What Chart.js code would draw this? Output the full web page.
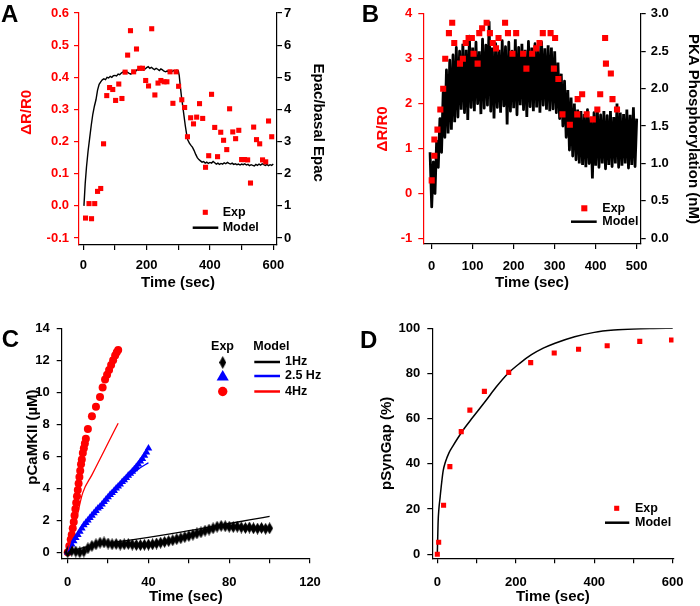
<!DOCTYPE html>
<html>
<head>
<meta charset="utf-8">
<title>Epac, PKA, CaMKII and SynGap: model vs experiment</title>
<script src="https://cdn.jsdelivr.net/npm/chart.js@4.4.1/dist/chart.umd.min.js"></script>
<style>
  html, body { margin: 0; padding: 0; background: #fff; }
  #wrap { position: relative; width: 700px; height: 606px; }
  #wrap canvas { position: absolute; }
</style>
</head>
<body>
<div id="wrap">
  <canvas id="panelA" width="350" height="303" style="left:0;top:0"></canvas>
  <canvas id="panelB" width="350" height="303" style="left:350px;top:0"></canvas>
  <canvas id="panelC" width="350" height="303" style="left:0;top:303px"></canvas>
  <canvas id="panelD" width="350" height="303" style="left:350px;top:303px"></canvas>
</div>
<script>
// ---- Panel A: Epac ----
const aExpTime = [7,18,26,36,45,55,64,74,83,93,102,112,122,132,140,149,159,168,178,187,197,206,216,226,236,245,255,264,274,283,293,301,311,320,329,339,348,358,367,377,386,396,405,415,424,434,443,453,462,472,481,491,500,509,519,528,538,547,557,566,576,585,595];
const aExpRatio = [-0.038,0.007,-0.04,0.007,0.045,0.054,0.193,0.343,0.368,0.362,0.328,0.379,0.334,0.416,0.469,0.545,0.417,0.488,0.428,0.428,0.39,0.373,0.551,0.345,0.382,0.39,0.386,0.386,0.417,0.319,0.417,0.372,0.33,0.306,0.215,0.274,0.255,0.276,0.318,0.272,0.12,0.156,0.347,0.244,0.153,0.229,0.204,0.175,0.302,0.23,0.209,0.235,0.144,0.144,0.143,0.071,0.245,0.206,0.193,0.143,0.137,0.264,0.215];
const aModelTime = [2,6,10,15,20,25,30,35,40,45,50,55,60,65,70,75,80,85,90,95,100,105,110,115,120,125,130,135,140,145,150,155,160,165,170,175,180,185,190,195,200,205,210,215,220,225,230,235,240,245,250,255,260,265,270,275,280,285,290,295,300,303,306,310,314,318,322,326,330,335,340,345,350,355,360,365,370,375,380,385,390,395,400,405,410,415,420,425,430,435,440,445,450,455,460,465,470,475,480,485,490,495,500,505,510,515,520,525,530,535,540,545,550,555,560,565,570,575,580,585,590,595,600];
const aModelEpac = [1.0,1.7,2.2,2.7,3.1,3.5,3.85,4.1,4.3,4.6,4.78,4.86,4.92,4.95,4.93,5.0,4.98,5.03,5.0,5.05,5.06,5.04,5.1,5.08,5.13,5.16,5.14,5.18,5.15,5.12,5.1,5.14,5.2,5.18,5.24,5.22,5.27,5.25,5.22,5.26,5.3,5.33,5.28,5.31,5.27,5.24,5.28,5.25,5.21,5.26,5.23,5.19,5.17,5.2,5.16,5.2,5.18,5.21,5.19,5.22,5.2,5.05,4.75,4.4,4.1,3.8,3.5,3.25,3.05,2.95,2.88,2.82,2.72,2.6,2.5,2.44,2.4,2.36,2.38,2.33,2.36,2.32,2.35,2.33,2.38,2.34,2.3,2.33,2.29,2.32,2.3,2.34,2.31,2.35,2.32,2.3,2.33,2.29,2.31,2.28,2.3,2.27,2.3,2.28,2.31,2.27,2.29,2.25,2.28,2.26,2.24,2.29,2.26,2.3,2.27,2.31,2.28,2.26,2.29,2.25,2.28,2.26,2.3];

// ---- Panel B: PKA ----
const bExpTime = [0,6.5,6.5,14,21,28,33,42,50,55,69,76,83,90,98,102,112,116,123,134,142,149,157,163,179,186,197,206,223,231,245,255,263,271,290,298,301,309,319,337,355,356,367,378,393,404,411,423,425,437,441,452];
const bExpRatio = [0.29,0.84,1.2,1.42,1.87,2.33,3.0,3.57,3.8,3.35,2.89,3.0,3.35,3.46,3.46,3.11,2.89,3.57,3.68,3.8,3.57,3.35,3.23,3.46,3.8,3.57,3.11,3.57,3.11,2.78,3.11,3.23,3.35,3.57,3.57,2.78,3.46,2.55,1.76,1.53,1.76,2.1,2.21,1.76,1.65,1.87,2.21,3.46,2.89,2.67,2.1,1.87];
// model trace, sampled every 4 s from -4 s
const bModelStart = -4, bModelStep = 4;
const bModelPka = [1.15,0.42,1.02,0.6,1.3,0.95,1.6,1.15,1.95,1.35,2.25,1.4,2.38,1.45,2.45,1.55,2.55,1.62,2.5,1.72,2.6,1.68,2.52,1.58,2.7,1.75,2.55,1.7,2.62,1.8,2.5,1.66,2.66,1.74,2.58,1.78,2.9,1.7,2.55,1.6,2.6,1.75,2.52,1.68,2.64,1.77,2.56,1.52,2.62,1.7,2.5,1.74,2.66,1.65,2.55,1.78,2.6,1.72,2.52,1.62,2.63,1.76,2.55,1.7,2.6,1.75,2.57,1.68,2.62,1.78,2.54,1.72,2.58,1.7,2.55,1.73,2.5,1.68,2.35,1.6,2.2,1.5,2.1,1.35,1.98,1.18,1.88,1.1,1.8,1.05,1.72,1.0,1.7,0.98,1.66,0.95,1.72,1.0,1.62,0.8,1.68,0.97,1.75,0.95,1.65,1.0,1.7,0.93,1.64,0.98,1.7,0.96,1.62,1.0,1.8,0.95,1.68,0.97,1.66,1.0,1.72,0.94,1.65,0.98,1.75,0.96,1.6];

// ---- Panel C: pCaMKII ----
const c4HzTime = [0,0.8,1.5,2,2.5,3,3.4,3.8,4.2,4.6,5,5.4,5.8,6.2,6.6,7,7.5,8,8.5,9,10,12,14,16,17.3,18.5,19.5,20.5,21.5,22.5,23.5,24.3,25];
const c4HzExp = [0,0.4,0.8,1.1,1.5,1.9,2.3,2.7,3.1,3.5,3.9,4.3,4.7,5.1,5.5,5.8,6.2,6.5,6.8,7.1,7.7,8.5,9.1,9.7,10.3,10.8,11.1,11.4,11.7,12.0,12.3,12.5,12.65];
const c25HzTime = [0,1,2,3,4,5,6,7,8,9,10,11,12,13,14,15,16,17,18,19,20,21,22,23,24,25,26,27,28,29,30,31,32,33,34,35,36,37,38,39,40];
const c25HzExp = [0,0.25,0.5,0.7,0.9,1.1,1.3,1.5,1.7,1.85,2.0,2.15,2.3,2.45,2.6,2.75,2.85,3.0,3.15,3.3,3.45,3.6,3.72,3.85,4.0,4.12,4.25,4.4,4.52,4.65,4.8,4.92,5.05,5.2,5.35,5.5,5.68,5.85,6.05,6.25,6.5];
const c1HzTime = [0,2,4,6,8,10,12,14,16,18,20,22,24,26,28,30,32,34,36,38,40,42,44,46,48,50,52,54,56,58,60,62,64,66,68,70,72,74,76,78,80,82,84,86,88,90,92,94,96,98,100];
const c1HzExp = [0,0.1,0.05,0.0,0.05,0.25,0.4,0.5,0.6,0.62,0.55,0.5,0.52,0.48,0.5,0.52,0.48,0.46,0.45,0.47,0.48,0.5,0.55,0.6,0.65,0.7,0.75,0.82,0.88,0.95,1.02,1.1,1.18,1.25,1.35,1.42,1.5,1.6,1.65,1.63,1.6,1.58,1.6,1.55,1.52,1.55,1.5,1.48,1.52,1.47,1.5];
const c1HzModelTime = [0,5,10,15,20,30,40,50,60,70,80,90,100];
const c1HzModel = [0,0.2,0.35,0.48,0.58,0.75,0.93,1.13,1.35,1.57,1.8,2.02,2.25];
const c25HzModelTime = [0,3,6,10,15,20,25,30,35,40];
const c25HzModel = [0,0.7,1.3,2.0,2.75,3.45,4.1,4.7,5.2,5.6];
const c4HzModelTime = [0,2,4,7.4,12,16,20,25];
const c4HzModel = [0,1.0,1.9,3.7,4.84,5.83,6.83,8.07];

// ---- Panel D: pSynGap ----
const dExpTime = [0,3.5,16,32,61,83,120,182,238,298,360,433,516,597];
const dExpVal = [0,5.3,21.7,38.8,54.3,63.8,72.1,80.5,84.8,89.1,90.7,92.3,94.2,94.8];
const dModelTime = [0,1,2,4,7,10,15,20,30,40,50,70,90,125,150,180,210,240,270,300,350,400,450,500,550,600];
const dModelVal = [0,7,14,20,25,30,37,40.5,45,48,50.8,56,60.5,68.3,74,80,84.5,88.3,91.2,93.4,96.3,98.2,99.2,99.7,99.9,100];

const FONT = '"Liberation Sans", Arial, Helvetica, sans-serif';
Chart.defaults.font.family = FONT;
Chart.defaults.font.weight = 'bold';
Chart.defaults.color = '#000';

const RED = '#ff0000', BLUE = '#0000ff', BLACK = '#000000';
const tickFont = {size: 13, weight: 'bold'};
const titleFont = {size: 15, weight: 'bold'};

function pts(xs, ys) { return xs.map((x, i) => ({x: x, y: ys[i]})); }

// tall narrow diamond used for the 1 Hz points
function diamond(w, h) {
  const c = document.createElement('canvas');
  c.width = w; c.height = h;
  const g = c.getContext('2d');
  g.fillStyle = BLACK;
  g.beginPath();
  g.moveTo(w / 2, 0); g.lineTo(w, h / 2); g.lineTo(w / 2, h); g.lineTo(0, h / 2);
  g.closePath(); g.fill();
  return c;
}
const dia = diamond(7, 12);
const diaLegend = diamond(7, 13);

function axis(o) {
  const horiz = o.position === 'bottom';
  return {
    type: 'linear', position: o.position, min: o.min, max: o.max,
    border: {display: true, color: o.color, width: 1.2},
    grid: {drawOnChartArea: false, drawTicks: true, tickLength: 5, color: o.color, lineWidth: 1.2},
    ticks: {stepSize: o.step, includeBounds: false, autoSkip: false, maxRotation: 0,
      padding: o.pad, color: o.color, font: tickFont, callback: o.fmt},
    title: {display: true, text: o.title, color: o.color, font: titleFont,
      padding: horiz ? {top: 0, bottom: o.tpad} : {top: o.tpad, bottom: 0}},
    afterFit: s => { if (horiz) s.height = o.size; else s.width = o.size; }
  };
}

function mark(ctx, style, x, y, r, color) {
  if (style instanceof HTMLCanvasElement) {
    ctx.drawImage(style, x - style.width / 2, y - style.height / 2);
    return;
  }
  ctx.fillStyle = color;
  ctx.beginPath();
  if (style === 'rect') {
    const h = r * Math.SQRT1_2;
    ctx.rect(x - h, y - h, 2 * h, 2 * h);
  } else if (style === 'circle') {
    ctx.arc(x, y, r, 0, Math.PI * 2);
  } else if (style === 'triangle') {
    ctx.moveTo(x, y - r);
    ctx.lineTo(x + r * 0.866, y + r * 0.5);
    ctx.lineTo(x - r * 0.866, y + r * 0.5);
    ctx.closePath();
  }
  ctx.fill();
}

// panel letter + hand-placed legend
const deco = {
  id: 'deco',
  afterDraw(chart, args, opts) {
    const ctx = chart.ctx;
    const ds = chart.data.datasets;
    ctx.save();
    ctx.textBaseline = 'middle';
    ctx.font = 'bold 12.5px ' + FONT;
    (opts.items || []).forEach(it => {
      if (it.point !== undefined) {
        const d = ds[it.point];
        mark(ctx, it.style || d.pointStyle, it.x, it.y, it.r || d.pointRadius, d.pointBackgroundColor);
      }
      if (it.line !== undefined) {
        const d = ds[it.line];
        ctx.strokeStyle = d.borderColor;
        ctx.lineWidth = it.w || 2.5;
        ctx.beginPath(); ctx.moveTo(it.x1, it.y); ctx.lineTo(it.x2, it.y); ctx.stroke();
      }
      if (it.text) {
        ctx.fillStyle = BLACK;
        ctx.textAlign = it.align || 'left';
        ctx.fillText(it.text, it.tx, it.y);
      }
    });
    if (opts.letter) {
      ctx.font = 'bold 24px ' + FONT;
      ctx.textAlign = 'left';
      ctx.textBaseline = 'alphabetic';
      ctx.fillStyle = BLACK;
      ctx.fillText(opts.letter.text, opts.letter.x, opts.letter.y);
    }
    ctx.restore();
  }
};

const base = {
  responsive: false, animation: false, devicePixelRatio: 1,
  events: []
};

function squares(data, r, yAxisID) {
  return {data: data, yAxisID: yAxisID, pointStyle: 'rect', pointRadius: r, pointBorderWidth: 0,
    pointBackgroundColor: RED, backgroundColor: RED, borderColor: RED, showLine: false};
}
function trace(data, color, w, yAxisID, smooth) {
  return {data: data, yAxisID: yAxisID, showLine: true, pointRadius: 0, borderColor: color,
    backgroundColor: color, pointBackgroundColor: color, borderWidth: w,
    cubicInterpolationMode: smooth ? 'monotone' : 'default', tension: 0};
}

// ---- A ----
new Chart(document.getElementById('panelA'), {
  type: 'scatter',
  data: {datasets: [
    squares(pts(aExpTime, aExpRatio), 3.6, 'y'),
    trace(pts(aModelTime, aModelEpac), BLACK, 1.4, 'y1')
  ]},
  options: Object.assign({}, base, {
    layout: {padding: {top: 13, left: 0, right: 0, bottom: 0}},
    scales: {
      x: axis({position: 'bottom', min: -13.6, max: 611.7, step: 100, color: BLACK, size: 58, pad: 7.5,
        title: 'Time (sec)', tpad: 11.3, fmt: v => (v % 200 === 0 ? v : '')}),
      y: axis({position: 'left', min: -0.1218, max: 0.6, step: 0.1, color: RED, size: 79, pad: 5,
        title: '        ΔR/R0', tpad: 17.7, fmt: v => v.toFixed(1)}),
      y1: axis({position: 'right', min: -0.2178, max: 7, step: 1, color: BLACK, size: 73, pad: 2,
        title: 'Epac/basal Epac   ', tpad: 22.7, fmt: v => String(v)})
    },
    plugins: {legend: {display: false}, tooltip: {enabled: false},
      deco: {letter: {text: 'A', x: 1, y: 22}, items: [
        {point: 0, x: 205.3, y: 212.3, text: 'Exp', tx: 222.7},
        {line: 1, x1: 192.7, x2: 218.3, y: 227.7, text: 'Model', tx: 222.7}
      ]}}
  }),
  plugins: [deco]
});

// ---- B ----
const bModel = trace(bModelPka.map((v, i) => ({x: bModelStart + i * bModelStep, y: v})), BLACK, 2.8, 'y1');
bModel.tension = 0.01; // keep every zigzag vertex (no per-pixel fast path)
bModel.borderJoinStyle = 'bevel';
new Chart(document.getElementById('panelB'), {
  type: 'scatter',
  data: {datasets: [
    squares(pts(bExpTime, bExpRatio), 4.3, 'y'),
    bModel
  ]},
  options: Object.assign({}, base, {
    layout: {padding: {top: 12.3, left: 0, right: 0, bottom: 0}},
    scales: {
      x: axis({position: 'bottom', min: -20.5, max: 509.8, step: 100, color: BLACK, size: 59, pad: 9.5,
        title: 'Time (sec)', tpad: 11.3, fmt: v => String(v)}),
      y: axis({position: 'left', min: -1.126, max: 4, step: 1, color: RED, size: 73.3, pad: 6,
        title: 'ΔR/R0', tpad: 24.3, fmt: v => String(v)}),
      y1: axis({position: 'right', min: -0.0757, max: 3, step: 0.5, color: BLACK, size: 59.3, pad: 5,
        title: 'PKA Phosphorylation (nM)', tpad: -2, fmt: v => v.toFixed(1)})
    },
    plugins: {legend: {display: false}, tooltip: {enabled: false},
      deco: {letter: {text: 'B', x: 11.7, y: 21.7}, items: [
        {point: 0, x: 234.3, y: 208.3, text: 'Exp', tx: 252.3},
        {line: 1, x1: 221, x2: 246.7, y: 221.7, w: 2.5, text: 'Model', tx: 252.3}
      ]}}
  }),
  plugins: [deco]
});

// ---- C ----
new Chart(document.getElementById('panelC'), {
  type: 'scatter',
  data: {datasets: [
    trace(pts(c1HzModelTime, c1HzModel), BLACK, 1.3, 'y', true),
    trace(pts(c25HzModelTime, c25HzModel), BLUE, 1.3, 'y', true),
    trace(pts(c4HzModelTime, c4HzModel), RED, 1.3, 'y', true),
    {data: pts(c1HzTime, c1HzExp), pointStyle: dia, pointRadius: 5, pointBackgroundColor: BLACK, borderColor: BLACK, showLine: false},
    {data: pts(c25HzTime, c25HzExp), pointStyle: 'triangle', pointRadius: 4.4, pointBorderWidth: 0, pointBackgroundColor: BLUE, borderColor: BLUE, showLine: false},
    {data: pts(c4HzTime, c4HzExp), pointStyle: 'circle', pointRadius: 4, pointBorderWidth: 0, pointBackgroundColor: RED, borderColor: RED, showLine: false}
  ]},
  options: Object.assign({}, base, {
    layout: {padding: {top: 25.3, left: 0, right: 40, bottom: 0}},
    scales: {
      x: axis({position: 'bottom', min: -2.97, max: 120, step: 20, color: BLACK, size: 47.7, pad: 11.5,
        title: 'Time (sec)', tpad: 0.3, fmt: v => (v % 40 === 0 ? v : '')}),
      y: axis({position: 'left', min: -0.375, max: 14, step: 2, color: BLACK, size: 61.7, pad: 7,
        title: '   pCaMKII (µM)', tpad: 24.3, fmt: v => String(v)})
    },
    plugins: {legend: {display: false}, tooltip: {enabled: false},
      deco: {letter: {text: 'C', x: 1.7, y: 44}, items: [
        {text: 'Exp', tx: 222.5, y: 44, align: 'center'},
        {text: 'Model', tx: 253.3, y: 44},
        {point: 3, style: diaLegend, x: 222.7, y: 59.5},
        {point: 4, r: 7, x: 222.7, y: 74},
        {point: 5, r: 4.7, x: 222.7, y: 88.5},
        {line: 0, x1: 254.3, x2: 280, y: 59, text: '1Hz', tx: 285},
        {line: 1, x1: 254.3, x2: 280, y: 73, text: '2.5 Hz', tx: 285},
        {line: 2, x1: 254.3, x2: 280, y: 88.5, text: '4Hz', tx: 285}
      ]}}
  }),
  plugins: [deco]
});

// ---- D ----
new Chart(document.getElementById('panelD'), {
  type: 'scatter',
  data: {datasets: [
    squares(pts(dExpTime, dExpVal), 3.6, 'y'),
    trace(pts(dModelTime, dModelVal), BLACK, 1.5, 'y', true)
  ]},
  options: Object.assign({}, base, {
    layout: {padding: {top: 25.3, left: 0, right: 26.5, bottom: 0}},
    scales: {
      x: axis({position: 'bottom', min: -12.75, max: 602, step: 100, color: BLACK, size: 47.7, pad: 11.5,
        title: 'Time (sec)', tpad: 0.3, fmt: v => (v % 200 === 0 ? v : '')}),
      y: axis({position: 'left', min: -1.77, max: 100, step: 20, color: BLACK, size: 82.3, pad: 7,
        title: 'pSynGap (%)', tpad: 27.7, fmt: v => String(v)})
    },
    plugins: {legend: {display: false}, tooltip: {enabled: false},
      deco: {letter: {text: 'D', x: 10, y: 45}, items: [
        {point: 0, x: 266.7, y: 205.3, text: 'Exp', tx: 285},
        {line: 1, x1: 255, x2: 279.3, y: 219.7, text: 'Model', tx: 285}
      ]}}
  }),
  plugins: [deco]
});
</script>
</body>
</html>
